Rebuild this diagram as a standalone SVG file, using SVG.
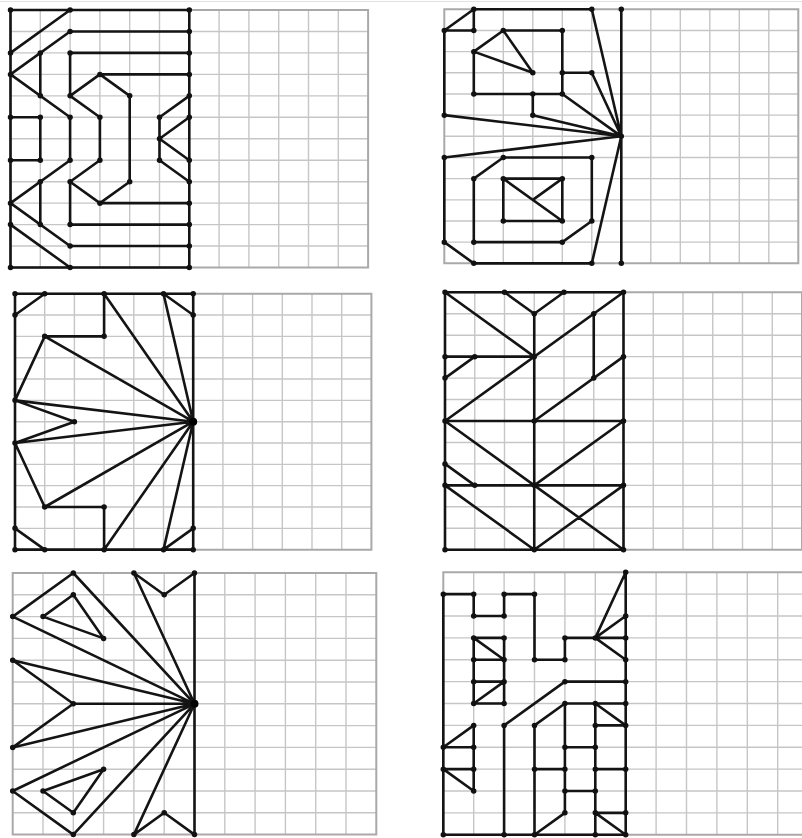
<svg xmlns="http://www.w3.org/2000/svg" width="802" height="838" viewBox="0 0 802 838">
<style>
.g{fill:none;stroke:#c6c6c6;stroke-width:1.4;vector-effect:non-scaling-stroke}
.b{fill:none;stroke:#a9a9a9;stroke-width:2;vector-effect:non-scaling-stroke}
.k{fill:none;stroke:#141414;stroke-width:2.6;stroke-linecap:round;stroke-linejoin:round;vector-effect:non-scaling-stroke}
.d{fill:none;stroke:#111;stroke-width:5.5;stroke-linecap:round;vector-effect:non-scaling-stroke}
.h{fill:none;stroke:#000;stroke-width:8;stroke-linecap:round;vector-effect:non-scaling-stroke}
</style>
<defs>
<path id="grid" class="g" d="M1 0V12M2 0V12M3 0V12M4 0V12M5 0V12M6 0V12M7 0V12M8 0V12M9 0V12M10 0V12M11 0V12M0 1H12M0 2H12M0 3H12M0 4H12M0 5H12M0 6H12M0 7H12M0 8H12M0 9H12M0 10H12M0 11H12"/>
<rect id="frame" class="b" x="0" y="0" width="12" height="12"/>
</defs>
<rect width="802" height="838" fill="#fff"/>
<line x1="0" y1="1.5" x2="802" y2="1.5" stroke="#e2e2e2" stroke-width="1.2"/>

<g id="panel1" transform="translate(10.5 10) scale(29.8 21.46)">
<use href="#grid"/><use href="#frame"/>
<path class="k" d="M0 0V12M6 0V12M0 0H6M0 12H6M0 2L2 0M2 1H6M2 1L0 3M1 2V4M0 3L2 5M2 2H6M2 2V4M2 4L3 3H6M3 3L4 4V8L3 9H6M2 4L3 5V7L2 8L3 9M2 5V7M2 7L0 9M1 8V10M0 9L2 11H6M2 8V10H6M0 10L2 12M0 5H1V7H0M6 4L5 5M6 5L5 6L6 7M5 7L6 8M5 5V7"/>
<path class="d" d="M6 0h0M6 1h0M6 2h0M6 3h0M6 4h0M6 5h0M6 7h0M6 8h0M6 9h0M6 10h0M6 11h0M6 12h0M0 0h0M0 2h0M0 3h0M0 5h0M0 7h0M0 9h0M0 10h0M0 12h0M2 0h0M2 1h0M1 2h0M2 2h0M3 3h0M1 4h0M2 4h0M4 4h0M1 5h0M2 5h0M3 5h0M5 5h0M5 6h0M1 7h0M2 7h0M3 7h0M5 7h0M1 8h0M2 8h0M4 8h0M3 9h0M1 10h0M2 10h0M2 11h0M2 12h0"/>
</g>

<g id="panel2" transform="translate(444.3 9.3) scale(29.5 21.17)">
<use href="#grid"/><use href="#frame"/>
<path class="k" d="M6 0V12M1 0H5M0 1L1 0V1H0M0 1V5L6 6L0 7V11L1 12H5L6 6L5 0M2 1H4M1 2L2 1L3 3L1 2V4H4V1M4 3H5L6 6M4 4L6 6M3 4V5L6 6M2 7H5V10L4 11H1V8L2 7M2 8H4V10H2ZM2 8L4 10M4 8L3 9"/>
<path class="d" d="M1 0h0M5 0h0M6 0h0M0 1h0M1 1h0M2 1h0M4 1h0M1 2h0M3 3h0M4 3h0M5 3h0M1 4h0M3 4h0M4 4h0M0 5h0M3 5h0M6 6h0M0 7h0M2 7h0M5 7h0M1 8h0M2 8h0M4 8h0M2 10h0M4 10h0M5 10h0M0 11h0M1 11h0M4 11h0M1 12h0M5 12h0M6 12h0"/>
</g>

<g id="panel3" transform="translate(15 293.7) scale(29.7 21.33)">
<use href="#grid"/><use href="#frame"/>
<path class="k" d="M0 0V12M6 0V12M0 0H6M0 12H6M0 1L1 0M5 0L6 1M0 11L1 12M6 11L5 12M3 0V2H1L0 5M1 2L6 6M3 0L6 6M5 0L6 6M0 5L6 6M0 5L2 6L0 7L6 6M0 7L1 10H3V12M1 10L6 6M3 12L6 6M5 12L6 6"/>
<path class="d" d="M0 0h0M1 0h0M3 0h0M5 0h0M6 0h0M0 1h0M6 1h0M1 2h0M3 2h0M0 5h0M2 6h0M0 7h0M1 10h0M3 10h0M0 11h0M6 11h0M0 12h0M1 12h0M3 12h0M5 12h0M6 12h0"/>
<path class="h" d="M6 6h0"/>
</g>

<g id="panel4" transform="translate(445 292.3) scale(29.75 21.45)">
<use href="#grid"/><use href="#frame"/>
<path class="k" d="M0 0V12M6 0V12M0 0H6M0 12H6M0 0L3 3M2 0L3 1L4 0M3 1V12M6 0L0 6M5 1V4M6 3L3 6M0 3H3M0 4L1 3M0 6H6M0 6L3 9L6 6M0 8L1 9M0 9H6M0 9L3 12M3 9L6 12M3 12L6 9"/>
<path class="d" d="M0 0h0M2 0h0M4 0h0M6 0h0M3 1h0M5 1h0M0 3h0M1 3h0M3 3h0M6 3h0M0 4h0M5 4h0M0 6h0M3 6h0M6 6h0M0 8h0M0 9h0M1 9h0M3 9h0M6 9h0M0 12h0M3 12h0M6 12h0"/>
</g>

<g id="panel5" transform="translate(12.7 573) scale(30.3 21.8)">
<use href="#grid"/><use href="#frame"/>
<path class="k" d="M6 0V12M2 0L0 2L6 6M2 0L6 6M2 1L1 2L3 3ZM4 0L5 1L6 0M4 0L6 6M0 4L6 6M0 4L2 6H6M2 6L0 8L6 6M2 12L0 10L6 6M2 12L6 6M2 11L1 10L3 9ZM4 12L5 11L6 12M4 12L6 6"/>
<path class="d" d="M2 0h0M4 0h0M6 0h0M2 1h0M5 1h0M0 2h0M1 2h0M3 3h0M0 4h0M2 6h0M0 8h0M3 9h0M0 10h0M1 10h0M2 11h0M5 11h0M2 12h0M4 12h0M6 12h0"/>
<path class="h" d="M6 6h0"/>
</g>

<g id="panel6" transform="translate(443.3 572.3) scale(30.4 21.87)">
<use href="#grid"/><use href="#frame"/>
<path class="k" d="M6 0V12M0 12H6M0 1V12M0 1H1V2H2V1H3V4H4V3H6M6 0L5 3L6 2M5 3L6 4M1 3V6M2 3V6M1 3H2M1 4H2M1 5H2M1 6H2M1 3L2 4M2 5L1 6M4 5H6M4 5L2 7V12M3 12V7L4 6H6M4 6V11L3 12M5 6V12M5 6L6 7M5 7H6M4 8H5M3 9H4M5 9H6M4 10H5M5 11H6M5 11L6 12M0 8L1 7V10M0 8H1M0 9H1M0 9L1 10"/>
<path class="d" d="M6 0h0M0 1h0M1 1h0M2 1h0M3 1h0M1 2h0M2 2h0M6 2h0M1 3h0M2 3h0M4 3h0M5 3h0M6 3h0M1 4h0M2 4h0M3 4h0M4 4h0M6 4h0M1 5h0M2 5h0M4 5h0M6 5h0M1 6h0M2 6h0M4 6h0M5 6h0M6 6h0M1 7h0M2 7h0M3 7h0M5 7h0M6 7h0M0 8h0M1 8h0M4 8h0M5 8h0M0 9h0M1 9h0M3 9h0M4 9h0M5 9h0M6 9h0M1 10h0M4 10h0M5 10h0M4 11h0M5 11h0M6 11h0M0 12h0M2 12h0M3 12h0M5 12h0M6 12h0"/>
</g>
</svg>
